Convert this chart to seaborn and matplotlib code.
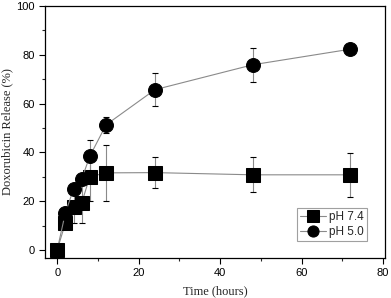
import numpy as np
import pandas as pd
import matplotlib
matplotlib.use("Agg")
import matplotlib.pyplot as plt
import seaborn as sns
from matplotlib.ticker import MultipleLocator

time = [0, 2, 4, 6, 8, 12, 24, 48, 72]
ph74 = [0, 11, 17.5, 19.2, 30, 31.6, 31.7, 30.8, 30.8]
ph74_err = [0, 0, 6.5, 8, 10, 11.5, 6.3, 7.1, 9]
ph50 = [0, 15.2, 24.9, 29, 38.4, 51.3, 65.7, 75.9, 82.3]
ph50_err = [0, 0, 0, 0, 6.5, 3.3, 6.7, 6.9, 0]
labels = ["pH 7.4", "pH 5.0"]

df = pd.DataFrame({
    "time": time * 2,
    "release": ph74 + ph50,
    "err": ph74_err + ph50_err,
    "group": [labels[0]] * len(time) + [labels[1]] * len(time),
})

sns.set_style("ticks")
plt.rcParams["font.family"] = ["Liberation Sans", "DejaVu Sans"]

fig = plt.figure(figsize=(3.91, 2.98), dpi=100)
ax = fig.add_axes([45 / 391, 40 / 298, 340 / 391, 252 / 298])

for lab in labels:
    sub = df[df.group == lab]
    ax.errorbar(sub.time, sub.release, yerr=sub.err, fmt="none", ecolor="#8a8a8a",
                elinewidth=0.8, capsize=2.5, capthick=0.8, zorder=1)

sns.lineplot(data=df, x="time", y="release", hue="group", style="group",
             markers={labels[0]: "s", labels[1]: "o"}, dashes=False,
             palette={labels[0]: "#8a8a8a", labels[1]: "#8a8a8a"},
             linewidth=0.8, markersize=10, markeredgecolor="black",
             markerfacecolor="black", ax=ax, zorder=2)
for line in ax.lines:
    line.set_markerfacecolor("black")
    line.set_markeredgecolor("black")

ax.set_xlim(-3, 80.5)
ax.set_ylim(-3.3, 100)
ax.xaxis.set_major_locator(MultipleLocator(20))
ax.xaxis.set_minor_locator(MultipleLocator(10))
ax.yaxis.set_major_locator(MultipleLocator(20))
ax.yaxis.set_minor_locator(MultipleLocator(10))
ax.tick_params(which="major", direction="out", length=4, width=0.8, labelsize=8, colors="black")
ax.tick_params(which="minor", direction="out", length=2.5, width=0.8)
for s in ax.spines.values():
    s.set_visible(True)
    s.set_color("black")
    s.set_linewidth(0.9)

ax.set_xlabel("Time (hours)", family="Liberation Serif", fontsize=9, labelpad=5)
ax.set_ylabel("Doxorubicin Release (%)", family="Liberation Serif", fontsize=9, labelpad=2)

handles, labs = ax.get_legend_handles_labels()
for h in handles:
    h.set_markerfacecolor("black")
    h.set_markeredgecolor("black")
    h.set_markersize(8)
leg = ax.legend(handles, labs, loc="lower right", bbox_to_anchor=(0.947, 0.066),
                fontsize=8.5, frameon=True, fancybox=False, handlelength=2.2,
                borderpad=0.3, labelspacing=0.2, handletextpad=0.2, borderaxespad=0)
leg.get_frame().set_edgecolor("#888888")
leg.get_frame().set_linewidth(0.8)

fig.savefig("out.png", dpi=100)
